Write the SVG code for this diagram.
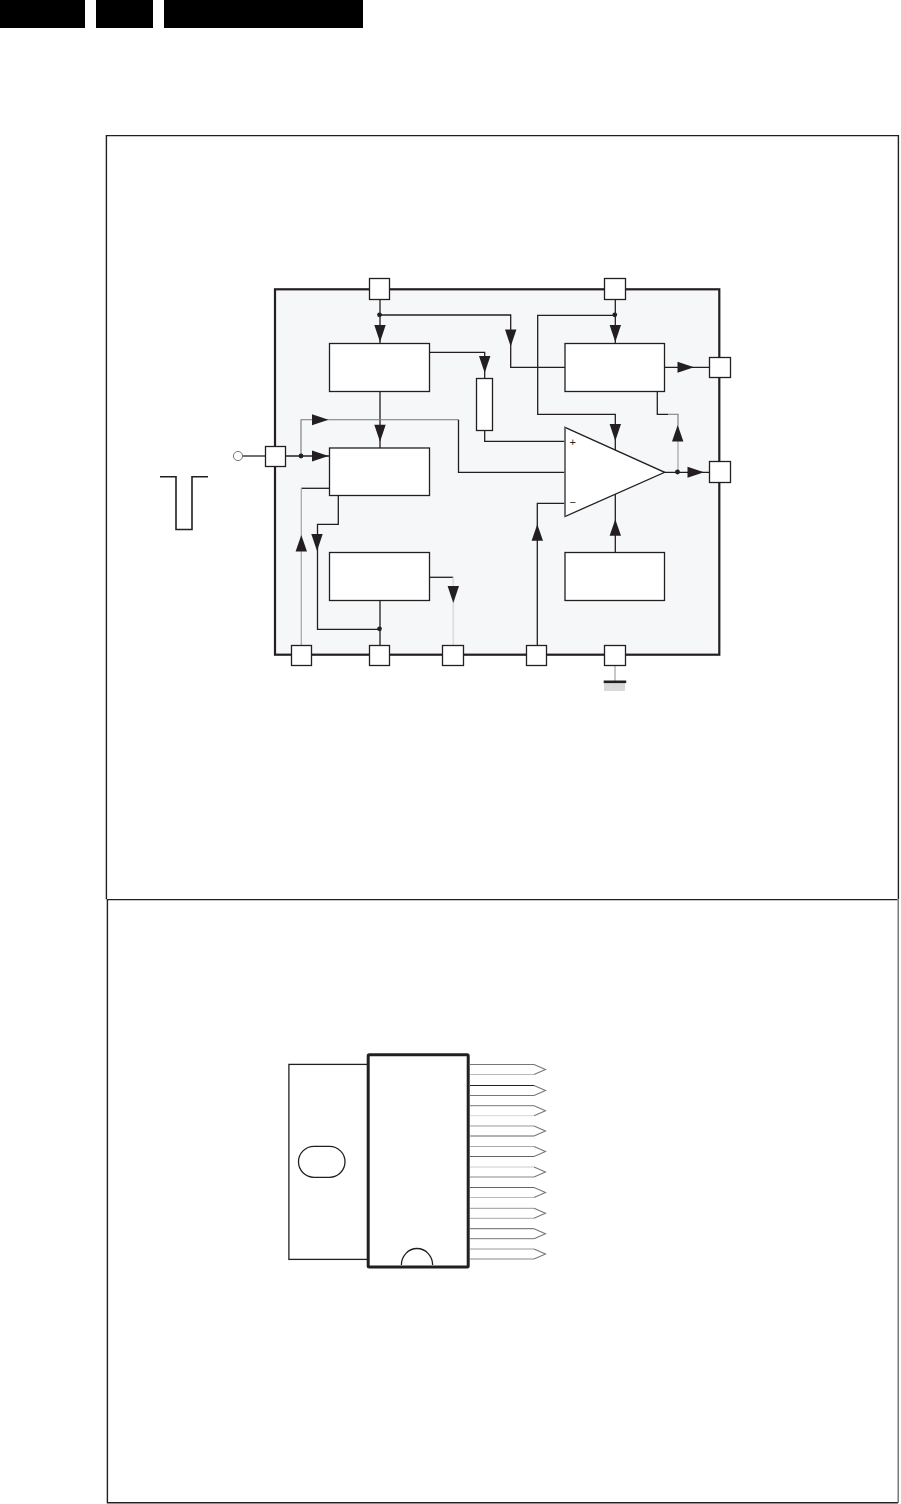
<svg xmlns="http://www.w3.org/2000/svg" width="901" height="1504" viewBox="0 0 901 1504">
<defs>
<style>
.ln{fill:none;stroke:#231f20;stroke-width:1.3}
.g1{fill:none;stroke:#777;stroke-width:1.1}
.g2{fill:none;stroke:#aaa;stroke-width:1.3}
.g3{fill:none;stroke:#ddd;stroke-width:1.7}
.box{fill:#fff;stroke:#231f20;stroke-width:1.3}
.hd{fill:#231f20;stroke:none}
.frame{fill:none;stroke:#231f20;stroke-width:1.4}
.sign{font-family:"Liberation Sans",Arial,sans-serif;font-size:11px;fill:#231f20;text-anchor:middle}
</style>
<polygon id="ad" class="hd" points="-5.7,-17 5.7,-17 0,0"/>
<polygon id="au" class="hd" points="-5.7,16.5 5.7,16.5 0,0"/>
<polygon id="ar" class="hd" points="-16.5,-5.5 -16.5,5.5 0,0"/>
</defs>
<rect width="901" height="1504" fill="#fff"/>
<g id="header">
<rect x="0" y="0" width="85" height="28" fill="#000"/>
<rect x="96" y="0" width="57" height="28" fill="#000"/>
<rect x="164" y="0" width="199" height="28" fill="#000"/>
</g>
<path id="frame-top" class="frame" d="M106.4 899.3V135.6H898.4V899.3"/>
<path id="frame-bottom" class="frame" d="M107.4 914V899.6H897.5M107.4 899.6V1502.8H898"/>
<path d="M898.2 899.6V1503" fill="none" stroke="#666" stroke-width="1.3"/>
<rect id="chip-body" x="275" y="289.3" width="444.3" height="365.4" fill="#f6f7f9" stroke="#231f20" stroke-width="2.2"/>
<g id="connectors">
<path class="ln" d="M380 299V343M380 315H510.7V367.3H565M429.3 352.3H484.7V378.5M380 391V448"/>
<path class="ln" d="M285.7 456H329.5"/>
<path class="g1" d="M301 456V419.7H458.5"/>
<path class="ln" d="M458.5 419.7V472.3H565"/>
<path class="ln" d="M615.3 299V343M615.3 315.3H537.7V414.3H615.3V450"/>
<path class="ln" d="M664.5 367.3H709.5M664.5 472.3H709.5M657.3 391V414.3H668"/>
<path class="g1" d="M668 414.3H678V425"/>
<path class="g2" d="M678 425V472"/>
<path class="ln" d="M484.7 430V441.3H565M537.3 645V503.3H565M615.3 552V494"/>
<path class="ln" d="M329.5 488.3H301.3"/>
<path class="g2" d="M301.3 488.3V645.5"/>
<path class="ln" d="M338.3 495V524.3H317.5V629.3H380M380 600V645.5"/>
<path class="ln" d="M429.3 577.3H453.3"/>
<path class="g3" d="M453.3 577.3V645.5"/>
<path class="g2" d="M615 665V681"/>
</g>
<g id="arrowheads">
<use href="#ad" x="380" y="342"/>
<use href="#ad" x="510.7" y="346.5"/>
<use href="#ad" x="484.7" y="373"/>
<use href="#ad" x="380" y="441.7"/>
<use href="#ad" x="615.3" y="342"/>
<use href="#ad" x="615.3" y="441"/>
<use href="#ad" x="317" y="551"/>
<use href="#ad" x="453.3" y="603"/>
<use href="#au" x="677.7" y="425"/>
<use href="#au" x="537.3" y="524.3"/>
<use href="#au" x="615.3" y="519.3"/>
<use href="#au" x="301.3" y="535"/>
<use href="#ar" x="328.5" y="419.7"/>
<use href="#ar" x="328.5" y="456"/>
<use href="#ar" x="694" y="367.3"/>
<use href="#ar" x="704" y="472.3"/>
<circle class="hd" cx="379.5" cy="314.8" r="2.4"/>
<circle class="hd" cx="614.8" cy="314.8" r="2.4"/>
<circle class="hd" cx="301" cy="456" r="2.4"/>
<circle class="hd" cx="677.5" cy="472" r="2.4"/>
<circle class="hd" cx="379.5" cy="628.8" r="2.4"/>
</g>
<g id="pins">
<rect class="box" x="369.5" y="278.5" width="20" height="21"/>
<rect class="box" x="604.5" y="278.5" width="21" height="21"/>
<rect class="box" x="265.5" y="446.5" width="20" height="20"/>
<rect class="box" x="709.5" y="357.5" width="21" height="20"/>
<rect class="box" x="709.5" y="461.5" width="21" height="21"/>
<rect class="box" x="291.5" y="645.5" width="20" height="20"/>
<rect class="box" x="369.5" y="645.5" width="20" height="20"/>
<rect class="box" x="442.5" y="645.5" width="21" height="20"/>
<rect class="box" x="526.5" y="645.5" width="20" height="20"/>
<rect class="box" x="604.5" y="645.5" width="21" height="20"/>
</g>
<g id="block-1"><rect class="box" x="329.5" y="343.5" width="100" height="48"/></g>
<g id="block-2"><rect class="box" x="329.5" y="448" width="100" height="47.5"/></g>
<g id="block-3"><rect class="box" x="329.5" y="552.5" width="100" height="48"/></g>
<g id="block-4"><rect class="box" x="565" y="343.5" width="99.5" height="48"/></g>
<g id="block-5"><rect class="box" x="565" y="552.5" width="99.5" height="48"/></g>
<g id="resistor"><rect class="box" x="476.5" y="378.5" width="16" height="52"/></g>
<g id="amplifier">
<polygon points="565,427.3 664.7,472.3 565,516.5" fill="#fff" stroke="#231f20" stroke-width="1.3"/>
<path d="M565 427.3V516.5" fill="none" stroke="#777" stroke-width="1.5"/>
<text class="sign" x="572.7" y="446">+</text>
<text class="sign" x="572.7" y="505.8">−</text>
</g>
<g id="input-terminal">
<path class="ln" d="M242.5 456H265.5"/>
<circle cx="238" cy="456" r="4.6" fill="#fff" stroke="#777" stroke-width="1"/>
</g>
<g id="pulse"><path d="M160 476.7H176V529.5H192V476.7H208" fill="none" stroke="#231f20" stroke-width="1.6"/></g>
<g id="ground">
<rect x="604" y="682.5" width="21" height="8.5" fill="#d9d9d9"/>
<rect x="603.7" y="680.5" width="22.5" height="2.6" fill="#231f20"/>
</g>
<g id="package">
<rect x="288.9" y="1064.4" width="79" height="195" fill="#fff" stroke="#231f20" stroke-width="1.3"/>
<rect x="298.5" y="1146.3" width="46.5" height="31" rx="15.5" fill="#fff" stroke="#231f20" stroke-width="1.3"/>
<rect x="368.2" y="1054.7" width="100" height="212.3" rx="1" fill="#fff" stroke="#231f20" stroke-width="3"/>
<path d="M401.4 1265A15.6 16.5 0 0 1 432.6 1265" fill="none" stroke="#231f20" stroke-width="1.3"/>
</g>
<g id="leads">
<path class="g1" d="M534 1064.5L545.5 1069.5L534 1074.5M534 1085.5L545.5 1090.5L534 1095.5M534 1105.7L545.5 1110.7L534 1115.7M534 1126L545.5 1131L534 1136M534 1146.5L545.5 1151.5L534 1156.5M534 1167L545.5 1172L534 1177M534 1187.5L545.5 1192.5L534 1197.5M534 1208.3L545.5 1213.3L534 1218.3M534 1228.7L545.5 1233.7L534 1238.7M534 1249L545.5 1254L534 1259"/>
<path d="M470 1064.5H534" stroke="#777" stroke-width="1"/>
<path d="M470 1074.5H534" stroke="#bbb" stroke-width="1.2"/>
<path d="M470 1085.5H534" stroke="#231f20" stroke-width="1"/>
<path d="M470 1095.5H534" stroke="#777" stroke-width="1"/>
<path d="M470 1105.7H534" stroke="#777" stroke-width="1"/>
<path d="M470 1115.7H534" stroke="#ddd" stroke-width="1.2"/>
<path d="M470 1126H534" stroke="#999" stroke-width="1"/>
<path d="M470 1136H534" stroke="#666" stroke-width="1"/>
<path d="M470 1146.5H534" stroke="#aaa" stroke-width="1"/>
<path d="M470 1156.5H534" stroke="#666" stroke-width="1"/>
<path d="M470 1167H534" stroke="#ccc" stroke-width="1.2"/>
<path d="M470 1177H534" stroke="#888" stroke-width="1"/>
<path d="M470 1187.5H534" stroke="#666" stroke-width="1"/>
<path d="M470 1197.5H534" stroke="#bbb" stroke-width="1.2"/>
<path d="M470 1208.3H534" stroke="#999" stroke-width="1"/>
<path d="M470 1218.3H534" stroke="#bbb" stroke-width="1.2"/>
<path d="M470 1228.7H534" stroke="#666" stroke-width="1"/>
<path d="M470 1238.7H534" stroke="#777" stroke-width="1"/>
<path d="M470 1249H534" stroke="#999" stroke-width="1"/>
<path d="M470 1259H534" stroke="#888" stroke-width="1"/>
</g>
</svg>
